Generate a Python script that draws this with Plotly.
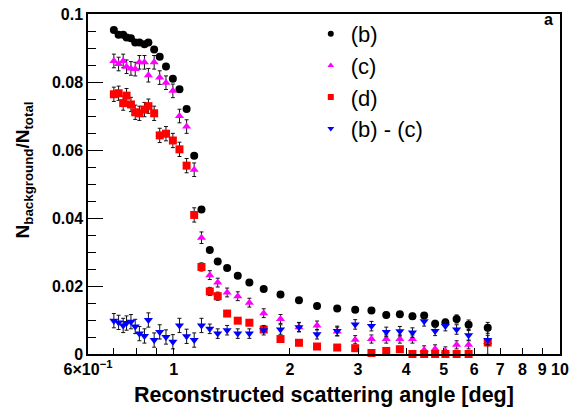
import plotly.graph_objects as go
import math

# ---- data ----
angle = [0.70, 0.72, 0.74, 0.755, 0.775, 0.795, 0.815, 0.84, 0.86, 0.89,
         0.92, 0.955, 0.995, 1.035, 1.08, 1.13, 1.18, 1.24, 1.30, 1.375,
         1.465, 1.57, 1.71, 1.89, 2.11, 2.35, 2.65, 2.95, 3.25, 3.55,
         3.85, 4.15, 4.45, 4.75, 5.05, 5.4, 5.8, 6.5]

b_vals = [0.0953, 0.0939, 0.0939, 0.0931, 0.0929, 0.0916, 0.0916, 0.0911, 0.0916, 0.0896,
          0.0874, 0.0846, 0.0810, 0.0779, 0.0721, 0.0583, 0.0425, 0.0306, 0.0272, 0.0253,
          0.0230, 0.0210, 0.0191, 0.0175, 0.0158, 0.0141, 0.0134, 0.0130, 0.0128, 0.0115,
          0.0117, 0.0111, 0.0113, 0.0089, 0.0093, 0.0103, 0.0086, 0.0077]
b_err = [0.0006] * 15 + [0.0005] * 14 + [0.0008, 0.0008, 0.0009, 0.0009, 0.0010,
                                         0.0010, 0.0012, 0.0014, 0.0016]

c_vals = [0.0862, 0.0853, 0.0862, 0.0845, 0.0840, 0.0838, 0.0858, 0.0858, 0.0820, 0.0858,
          0.0813, 0.0798, 0.0774, 0.0700, 0.0669, 0.0542, 0.0342, 0.0232, 0.0210, 0.0181,
          0.0170, 0.0151, 0.0120, 0.0103, 0.0079, 0.0084, 0.0066, 0.0042, 0.0044, 0.0044,
          0.0044, 0.0044, 0.0012, 0.0015, 0.0009, 0.0027, 0.0027, 0.0035]
c_err = [0.0020] * 16 + [0.0017] + [0.0013] * 10 + [0.0012] * 10 + [0.0036]

d_vals = [0.0764, 0.0767, 0.0738, 0.0760, 0.0734, 0.0711, 0.0708, 0.0719, 0.0729, 0.0708,
          0.0643, 0.0648, 0.0628, 0.0602, 0.0554, 0.0409, 0.0256, 0.0184, 0.0170, 0.0119,
          0.0098, 0.0092, 0.0072, 0.0044, 0.0033, 0.0022, 0.0019, 0.0017, 0.0003, 0.0009,
          0.0014, 0.0, 0.0, 0.0, 0.0, 0.0, 0.0, 0.0034]
d_err = [0.0021] * 16 + [0.0012] * 3 + [0.0006] * 12 + [0.0] * 6 + [0.0010]

bc_vals = [0.0098, 0.0093, 0.0084, 0.0091, 0.0095, 0.0081, 0.0060, 0.0053, 0.0100, 0.0041,
           0.0065, 0.0050, 0.0036, 0.0084, 0.0052, 0.0041, 0.0084, 0.0074, 0.0060, 0.0070,
           0.0060, 0.0060, 0.0070, 0.0072, 0.0079, 0.0058, 0.0068, 0.0087, 0.0082, 0.0065,
           0.0067, 0.0063, 0.0096, 0.0068, 0.0082, 0.0072, 0.0055, 0.0041]
bc_err = [0.0021] * 17 + [0.0014] * 21

x_tickvals = [0.6, 1, 2, 3, 4, 5, 6, 7, 8, 9, 10]
x_ticktext = ["6×10<sup>−1</sup>", "1", "2", "3", "4", "5", "6", "7", "8", "9", "10"]
x_minor = [0.7, 0.8, 0.9]
y_tickvals = [0, 0.02, 0.04, 0.06, 0.08, 0.1]
y_ticktext = ["0", "0.02", "0.04", "0.06", "0.08", "0.1"]

series = [
    ("(b)", b_vals, b_err, "#000000", "circle"),
    ("(c)", c_vals, c_err, "#ff00ff", "triangle-up"),
    ("(d)", d_vals, d_err, "#ff0000", "square"),
    ("(b) - (c)", bc_vals, bc_err, "#0000ff", "triangle-down"),
]

FONT = "Liberation Sans, Arial, Helvetica, sans-serif"

fig = go.Figure()
for i, (name, vals, errs, col, sym) in enumerate(series):
    fig.add_trace(go.Scatter(
        x=angle, y=vals, mode="markers", name=name, showlegend=False,
        marker=dict(symbol=sym, size=8, color=col, line=dict(width=0)),
        error_y=dict(type="data", array=errs, visible=True, color="#111111",
                     thickness=1, width=2),
        cliponaxis=False,
    ))
# legend entries (small markers like the reference)
for i, (name, vals, errs, col, sym) in enumerate(series):
    fig.add_trace(go.Scatter(
        x=[None], y=[None], mode="markers", name=name, legendgroup=str(i),
        marker=dict(symbol=sym, size=6, color=col, line=dict(width=0)),
    ))

fig.update_layout(
    width=575, height=407,
    margin=dict(l=88, r=11, t=6, b=53),
    paper_bgcolor="white", plot_bgcolor="white",
    font=dict(family=FONT, color="black"),
    showlegend=True,
    legend=dict(x=0.472, y=1.003, xanchor="left", yanchor="top",
                bgcolor="rgba(0,0,0,0)", borderwidth=0,
                font=dict(size=22, family=FONT), tracegroupgap=0,
                itemsizing="trace"),
    xaxis=dict(
        type="log", range=[math.log10(0.6), 1.0],
        tickvals=x_tickvals, ticktext=x_ticktext,
        ticks="inside", ticklen=6, tickwidth=1, tickcolor="black",
        minor=dict(tickvals=x_minor, ticks="inside", ticklen=6, tickwidth=1,
                   tickcolor="black"),
        showline=True, linecolor="black", linewidth=1.5, mirror=True,
        showgrid=False, zeroline=False, ticklabeloverflow="allow",
        tickfont=dict(size=16, family=FONT, weight="bold"),
    ),
    yaxis=dict(
        range=[0, 0.10001], tickvals=y_tickvals, ticktext=y_ticktext,
        ticks="inside", ticklen=15, tickwidth=1, tickcolor="black",
        minor=dict(dtick=0.005, ticks="inside", ticklen=8, tickwidth=1,
                   tickcolor="black"),
        showline=True, linecolor="black", linewidth=1.5, mirror=True,
        showgrid=False, zeroline=False, ticklabeloverflow="allow",
        tickfont=dict(size=16, family=FONT, weight="bold"),
    ),
    annotations=[
        dict(text="<b>Reconstructed scattering angle [deg]</b>",
             xref="paper", yref="paper", x=0.5, y=0, yshift=-41,
             xanchor="center", yanchor="middle", showarrow=False,
             font=dict(size=21.5, family=FONT)),
        dict(text="<b>N<sub>background</sub>/N<sub>total</sub></b>",
             xref="paper", yref="paper", x=0, xshift=-64, y=0.54,
             xanchor="center", yanchor="middle", textangle=-90, showarrow=False,
             font=dict(size=19, family=FONT)),
        dict(text="<b>a</b>", xref="paper", yref="paper", x=1, xshift=-12,
             y=1, yshift=-5, xanchor="center", yanchor="middle",
             showarrow=False, font=dict(size=16, family=FONT)),
    ],
)

fig.write_html("out.html", config={"displayModeBar": False},
               post_script="document.body.style.margin='0';")
